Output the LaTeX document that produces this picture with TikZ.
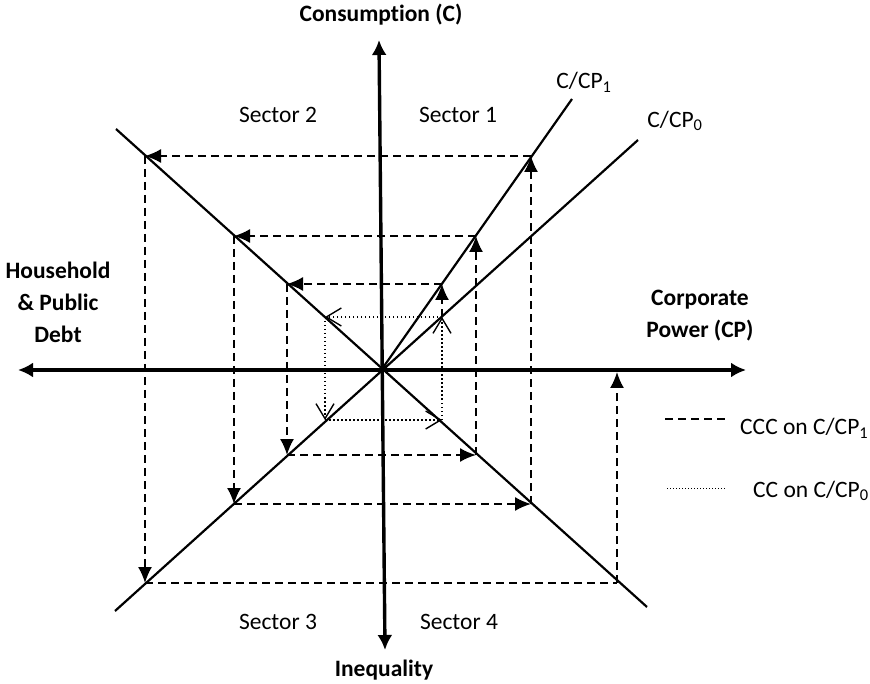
\documentclass[tikz,border=0pt]{standalone}
\usepackage{fontspec}
\setmainfont{Carlito}[Ligatures=NoCommon]
\usetikzlibrary{arrows.meta}
\begin{document}
\begin{tikzpicture}[x=1pt,y=-1pt,
  txt/.style={inner sep=0pt,font=\fontsize{23.5pt}{32pt}\selectfont},
  btxt/.style={txt,font=\fontsize{23.5pt}{32pt}\selectfont\bfseries,align=center},
  axisline/.style={line width=3.4pt,{Latex[length=15pt,width=15pt]}-{Latex[length=15pt,width=15pt]}},
  diagline/.style={line width=2.2pt},
  dsh/.style={line width=1.7pt,dash pattern=on 8pt off 5pt},
  dsharr/.style={dsh,-{Latex[length=16pt,width=14pt]}},
  dotl/.style={line width=1.3pt,dash pattern=on 1.5pt off 2.5pt},
  dotarr/.style={dotl,-{Straight Barb[length=15pt,width=18pt,line width=1.4pt]}}
]
\useasboundingbox (0,0) rectangle (870,684);
% axes
\coordinate (O) at (382,369);
\coordinate (T) at (379,40);
\coordinate (B) at (385,650);
\coordinate (L) at (18,370);
\coordinate (R) at (746,370);
\draw[axisline] (L) -- (R);
\draw[axisline] (B) -- (T);
% diagonals
\coordinate (NWe) at (116,129);
\coordinate (SEe) at (647,607);
\coordinate (SWe) at (115,611);
\coordinate (NEe) at (638,140);
\coordinate (CP1e) at (572,99);
\draw[diagline] (NWe) -- (SEe);
\draw[diagline] (SWe) -- (NEe);
\draw[diagline] (O) -- (CP1e);
% dotted cycle
\coordinate (P1) at (442,317);
\coordinate (P2) at (325,317);
\coordinate (P3) at (325,420);
\coordinate (P4) at (442,420);
\draw[dotarr] (P1) -- (P2);
\draw[dotarr] (P2) -- (P3);
\draw[dotarr] (P3) -- (P4);
\draw[dotarr] (P4) -- (P1);
% dashed spiral
\coordinate (D1) at (442,284);
\coordinate (D2) at (287,284);
\coordinate (D3) at (287,455);
\coordinate (D4) at (476,455);
\coordinate (D5) at (476,236);
\coordinate (D6) at (234,236);
\coordinate (D7) at (234,504);
\coordinate (D8) at (531,504);
\coordinate (D9) at (531,156);
\coordinate (D10) at (145,156);
\coordinate (D11) at (145,583);
\coordinate (D12) at (617,583);
\coordinate (D13) at (617,372);
\draw[dsharr] (P1) -- (D1);
\draw[dsharr] (D1) -- (D2);
\draw[dsharr] (D2) -- (D3);
\draw[dsharr] (D3) -- (D4);
\draw[dsharr] (D4) -- (D5);
\draw[dsharr] (D5) -- (D6);
\draw[dsharr] (D6) -- (D7);
\draw[dsharr] (D7) -- (D8);
\draw[dsharr] (D8) -- (D9);
\draw[dsharr] (D9) -- (D10);
\draw[dsharr] (D10) -- (D11);
\draw[dsh] (D11) -- (D12);
\draw[dsharr] (D12) -- (D13);
% labels
\node[btxt] (cons) at (381,15) {Consumption (C)};
\node[btxt] (ineq) at (384,670) {Inequality};
\node[btxt] (debt) at (58,302) {Household\\\& Public\\Debt};
\node[btxt] (cp) at (700,316) {Corporate\\Power (CP)};
\node[txt] (s1) at (458,115) {Sector 1};
\node[txt] (s2) at (278,115) {Sector 2};
\node[txt] (s3) at (278,622) {Sector 3};
\node[txt] (s4) at (459,622) {Sector 4};
\node[txt] (cp1) at (584,82) {C/CP\textsubscript{1}};
\node[txt] (cp0) at (675,121) {C/CP\textsubscript{0}};
% legend
\coordinate (LA1) at (665,419);
\coordinate (LA2) at (726,419);
\coordinate (LB1) at (667,488);
\coordinate (LB2) at (726,488);
\draw[dsh] (LA1) -- (LA2);
\draw[line width=1pt,dash pattern=on 1pt off 2pt] (LB1) -- (LB2);
\node[txt,anchor=west] (lg1) at (740,428) {CCC on C/CP\textsubscript{1}};
\node[txt,anchor=west] (lg2) at (753,491) {CC on C/CP\textsubscript{0}};
\end{tikzpicture}
\end{document}
